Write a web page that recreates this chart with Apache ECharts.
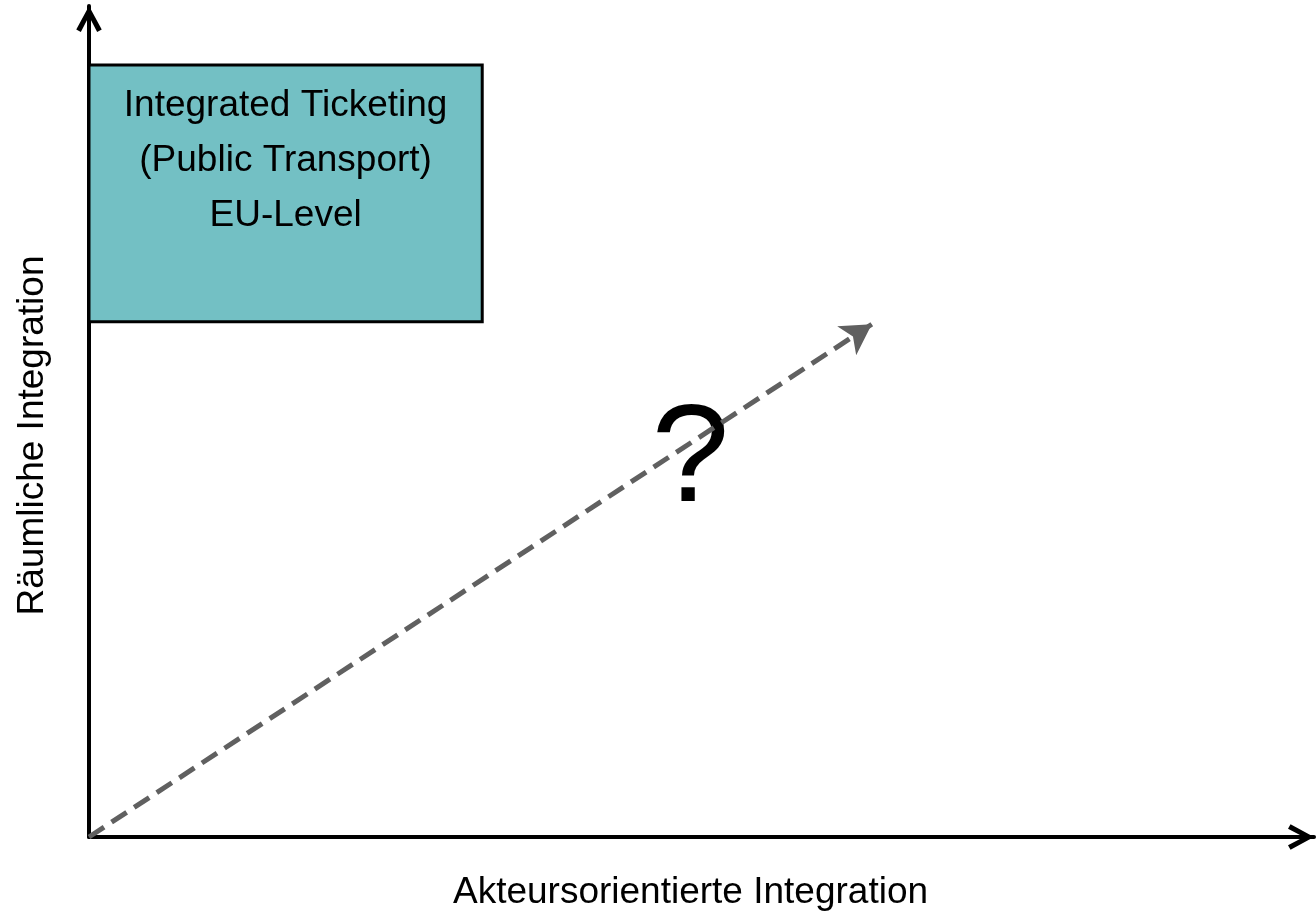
<!DOCTYPE html>
<html>
<head>
<meta charset="utf-8">
<script src="https://cdn.jsdelivr.net/npm/echarts@6/dist/echarts.min.js"></script>
<style>
html,body{margin:0;padding:0;background:#fff;}
#chart{width:1316px;height:916px;}
</style>
</head>
<body>
<div id="chart"></div>
<script>
// Axis titles
const xAxisTitle = 'Akteursorientierte Integration';
const yAxisTitle = 'Räumliche Integration';
// Box (x range, y range) in axis units 0..100
const boxLabel = 'Integrated Ticketing\n(Public Transport)\nEU-Level';
const boxX = [0, 32.1];
const boxY = [62.0, 92.9];
// Dashed trend arrow: start and end points
const arrowStart = [0, 0];
const arrowEnd = [63.9, 61.7];
// Question mark position
const questionMark = '?';
const questionPos = [49.1, 45.1];

const FONT = 'Liberation Sans, Arial, sans-serif';
const chevron = 'path://M0,9.2 L5,0 L10,9.2 L8.2,10.2 L5,4 L1.8,10.2 Z';

const chart = echarts.init(document.getElementById('chart'));
chart.setOption({
  animation: false,
  backgroundColor: '#ffffff',
  textStyle: { fontFamily: FONT },
  grid: { left: 89, right: 2, top: 6, bottom: 77 },
  xAxis: {
    type: 'value', min: 0, max: 100,
    name: xAxisTitle, nameLocation: 'middle', nameGap: 37,
    nameTextStyle: { fontSize: 37, color: '#000', fontFamily: FONT, padding: [0, 22, 0, 0] },
    axisLine: { show: true, lineStyle: { color: '#000', width: 4 }, symbol: ['none', chevron], symbolSize: [30, 26], symbolOffset: [0, -13] },
    axisTick: { show: false }, axisLabel: { show: false }, splitLine: { show: false }
  },
  yAxis: {
    type: 'value', min: 0, max: 100,
    name: yAxisTitle, nameLocation: 'middle', nameGap: 38,
    nameTextStyle: { fontSize: 37, color: '#000', fontFamily: FONT, padding: [0, 28, 0, 0] },
    axisLine: { show: true, onZero: false, lineStyle: { color: '#000', width: 4 }, symbol: ['none', chevron], symbolSize: [30, 26], symbolOffset: [0, -13] },
    axisTick: { show: false }, axisLabel: { show: false }, splitLine: { show: false }
  },
  series: [
    {
      type: 'line',
      data: [],
      silent: true,
      markArea: {
        silent: true,
        itemStyle: { color: '#73C0C4', borderColor: '#000', borderWidth: 3, opacity: 1 },
        label: {
          show: true, position: 'insideTop', distance: 15,
          formatter: boxLabel,
          fontSize: 37, lineHeight: 55, color: '#000', align: 'center',
          fontFamily: FONT
        },
        data: [[{ coord: [boxX[0], boxY[1]] }, { coord: [boxX[1], boxY[0]] }]]
      }
    },
    {
      type: 'line',
      data: [],
      silent: true,
      markLine: {
        silent: true,
        symbol: ['none', 'arrow'],
        symbolSize: [26, 30],
        label: { show: false },
        lineStyle: { color: '#606060', width: 5, type: [18, 9], cap: 'butt' },
        data: [[{ coord: arrowStart }, { coord: arrowEnd }]]
      }
    },
    {
      type: 'scatter',
      symbolSize: 0,
      silent: true,
      data: [questionPos],
      itemStyle: { color: '#000', opacity: 1 },
      label: {
        show: true, position: 'inside', formatter: questionMark,
        fontSize: 140, color: '#000', fontFamily: FONT, opacity: 1,
        textBorderWidth: 0, textBorderColor: 'transparent'
      }
    }
  ]
});
</script>
</body>
</html>
